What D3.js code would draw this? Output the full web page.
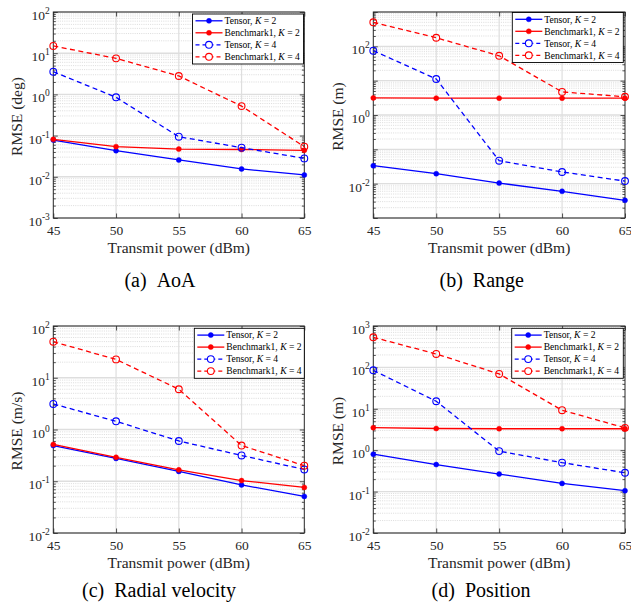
<!DOCTYPE html>
<html>
<head>
<meta charset="utf-8">
<script src="https://cdn.jsdelivr.net/npm/d3@7"></script>
<style>
  html, body { margin: 0; padding: 0; background: #fff; }
  svg, svg text { font-family: "Liberation Serif", "Times New Roman", Times, serif; }
</style>
</head>
<body>
<svg id="fig" width="631" height="610" font-family="Liberation Serif"></svg>
<script>
// Transmit power sweep (dBm)
const power = [45, 50, 55, 60, 65];

// Legend entries: method name and number of targets K
const seriesNames = ["Tensor", "Benchmark1", "Tensor", "Benchmark1"];
const seriesK = [2, 2, 4, 4];

// (a) AoA RMSE (deg)
const aoaTensorK2 = [0.078, 0.043, 0.0256, 0.0155, 0.0111];
const aoaBenchK2  = [0.081, 0.054, 0.047, 0.046, 0.044];
const aoaTensorK4 = [3.56, 0.85, 0.094, 0.051, 0.028];
const aoaBenchK4  = [15.0, 7.5, 2.8, 0.52, 0.054];

// (b) Range RMSE (m)
const rngTensorK2 = [0.0333, 0.0195, 0.0104, 0.0060, 0.00327];
const rngBenchK2  = [3.15, 3.1, 3.1, 3.1, 3.1];
const rngTensorK4 = [74.6, 11.2, 0.0466, 0.0219, 0.0119];
const rngBenchK4  = [501, 178, 53, 4.7, 3.4];

// (c) Radial velocity RMSE (m/s)
const velTensorK2 = [0.49, 0.276, 0.155, 0.085, 0.051];
const velBenchK2  = [0.515, 0.29, 0.166, 0.103, 0.076];
const velTensorK4 = [3.12, 1.44, 0.60, 0.315, 0.169];
const velBenchK4  = [49.7, 22.6, 6.0, 0.49, 0.20];

// (d) Position RMSE (m)
const posTensorK2 = [0.80, 0.45, 0.265, 0.158, 0.105];
const posBenchK2  = [3.5, 3.34, 3.3, 3.3, 3.3];
const posTensorK4 = [85, 15.2, 0.95, 0.50, 0.285];
const posBenchK4  = [533, 211, 69.5, 9.25, 3.47];

// y-axis decade ranges and labelled exponents
const aoaExpRange = [-3, 2], aoaLabelExps = [-3, -2, -1, 0, 1, 2];
const rngExpRange = [-3, 3], rngLabelExps = [-2, 0, 2];
const velExpRange = [-2, 2], velLabelExps = [-2, -1, 0, 1, 2];
const posExpRange = [-2, 3], posLabelExps = [-2, -1, 0, 1, 2, 3];

const xTicks = [45, 50, 55, 60, 65];

// Line style per series: colour, dashed, filled marker
const styles = [
  { color: "#0000ff", dashed: false, filled: true },
  { color: "#ff0000", dashed: false, filled: true },
  { color: "#0000ff", dashed: true,  filled: false },
  { color: "#ff0000", dashed: true,  filled: false }
];

const panels = [
  { series: [aoaTensorK2, aoaBenchK2, aoaTensorK4, aoaBenchK4], exps: aoaExpRange, labelExps: aoaLabelExps,
    yLabel: "RMSE (deg)", tag: "(a)", name: "AoA",
    box: { l: 53.3, r: 304.3, t: 12, b: 218 }, yLabelX: 21.7,
    legend: { x: 192.5, y: 14, w: 111, h: 50 }, cap: { x: 160, y: 287 } },
  { series: [rngTensorK2, rngBenchK2, rngTensorK4, rngBenchK4], exps: rngExpRange, labelExps: rngLabelExps,
    yLabel: "RMSE (m)", tag: "(b)", name: "Range",
    box: { l: 373.3, r: 625, t: 12, b: 218 }, yLabelX: 343,
    legend: { x: 512.3, y: 12.5, w: 111, h: 50 }, cap: { x: 481.7, y: 287 } },
  { series: [velTensorK2, velBenchK2, velTensorK4, velBenchK4], exps: velExpRange, labelExps: velLabelExps,
    yLabel: "RMSE (m/s)", tag: "(c)", name: "Radial velocity",
    box: { l: 53.3, r: 304.3, t: 326, b: 533 }, yLabelX: 21.7,
    legend: { x: 194.3, y: 328.3, w: 110, h: 50 }, cap: { x: 159, y: 597 } },
  { series: [posTensorK2, posBenchK2, posTensorK4, posBenchK4], exps: posExpRange, labelExps: posLabelExps,
    yLabel: "RMSE (m)", tag: "(d)", name: "Position",
    box: { l: 373.3, r: 625, t: 326, b: 533 }, yLabelX: 342.5,
    legend: { x: 511.7, y: 328.3, w: 111.6, h: 50 }, cap: { x: 481, y: 597 } }
];

const svg = d3.select("#fig");
const axisColor = "#262626";
const serif = "Liberation Serif";

panels.forEach(p => {
  const { l, r, t, b } = p.box;
  const x = d3.scaleLinear().domain([45, 65]).range([l, r]);
  const y = d3.scaleLog().domain([Math.pow(10, p.exps[0]), Math.pow(10, p.exps[1])]).range([b, t]);
  const g = svg.append("g").attr("font-family", serif);

  const decades = d3.range(p.exps[0], p.exps[1] + 1).map(e => Math.pow(10, e));
  const minors = [];
  for (let e = p.exps[0]; e < p.exps[1]; e++) {
    for (let k = 2; k <= 9; k++) minors.push(k * Math.pow(10, e));
  }

  // minor grid (dotted)
  g.append("g").selectAll("line").data(minors).join("line")
    .attr("x1", l).attr("x2", r)
    .attr("y1", d => y(d)).attr("y2", d => y(d))
    .attr("stroke", "#c4c4c4").attr("stroke-width", 0.6)
    .attr("stroke-dasharray", "1,1.2");

  // major grid (solid)
  g.append("g").selectAll("line").data(decades).join("line")
    .attr("x1", l).attr("x2", r)
    .attr("y1", d => y(d)).attr("y2", d => y(d))
    .attr("stroke", "#dedede").attr("stroke-width", 1.4);
  g.append("g").selectAll("line").data(xTicks.slice(1, -1)).join("line")
    .attr("x1", d => x(d)).attr("x2", d => x(d))
    .attr("y1", t).attr("y2", b)
    .attr("stroke", "#dedede").attr("stroke-width", 1.2);

  // axes with inward ticks
  const xb = g.append("g").attr("transform", `translate(0,${b})`)
    .call(d3.axisBottom(x).tickValues(xTicks).tickSizeInner(-4.5).tickSizeOuter(0));
  xb.selectAll("text").attr("y", 16.5).attr("dy", 0)
    .attr("font-size", 13.5).attr("fill", axisColor).attr("font-family", serif);
  const xt = g.append("g").attr("transform", `translate(0,${t})`)
    .call(d3.axisTop(x).tickValues(xTicks).tickSizeInner(-4.5).tickSizeOuter(0).tickFormat(""));

  const yl = g.append("g").attr("transform", `translate(${l},0)`)
    .call(d3.axisLeft(y).tickValues(decades).tickSizeInner(-4.5).tickSizeOuter(0).tickFormat(""));
  const yr = g.append("g").attr("transform", `translate(${r},0)`)
    .call(d3.axisRight(y).tickValues(decades).tickSizeInner(-4.5).tickSizeOuter(0).tickFormat(""));
  const ylm = g.append("g").attr("transform", `translate(${l},0)`)
    .call(d3.axisLeft(y).tickValues(minors).tickSizeInner(-2.5).tickSizeOuter(0).tickFormat(""));
  const yrm = g.append("g").attr("transform", `translate(${r},0)`)
    .call(d3.axisRight(y).tickValues(minors).tickSizeInner(-2.5).tickSizeOuter(0).tickFormat(""));
  [xb, xt, yl, yr, ylm, yrm].forEach(a => {
    a.attr("font-family", serif);
    a.select(".domain").remove();
    a.selectAll("line").attr("stroke", axisColor).attr("stroke-width", 0.8);
  });

  // box
  g.append("rect").attr("x", l).attr("y", t).attr("width", r - l).attr("height", b - t)
    .attr("fill", "none").attr("stroke", axisColor).attr("stroke-width", 1);

  // y tick labels as powers of ten
  const lab = g.append("g").selectAll("text").data(p.labelExps).join("text")
    .attr("x", l - 3.5).attr("y", d => y(Math.pow(10, d)) + 8)
    .attr("text-anchor", "end").attr("font-size", 13.5).attr("fill", axisColor)
    .attr("font-family", serif);
  lab.append("tspan").text("10");
  lab.append("tspan").attr("dy", -6).attr("font-size", 9.5).text(d => String(d));

  // axis titles
  g.append("text").attr("x", (l + r) / 2).attr("y", b + 35)
    .attr("text-anchor", "middle").attr("font-size", 15.5).attr("fill", axisColor)
    .attr("font-family", serif)
    .text("Transmit power (dBm)");
  g.append("text")
    .attr("transform", `translate(${p.yLabelX},${(t + b) / 2 + 1.5}) rotate(-90)`)
    .attr("text-anchor", "middle").attr("font-size", 15.5).attr("fill", axisColor)
    .attr("font-family", serif)
    .text(p.yLabel);

  // data series
  const line = d3.line().x((d, i) => x(power[i])).y(d => y(d));
  p.series.forEach((vals, si) => {
    const s = styles[si];
    g.append("path").datum(vals).attr("d", line)
      .attr("fill", "none").attr("stroke", s.color).attr("stroke-width", 1.3)
      .attr("stroke-dasharray", s.dashed ? "5,3.5" : null);
    g.append("g").selectAll("circle").data(vals).join("circle")
      .attr("cx", (d, i) => x(power[i])).attr("cy", d => y(d))
      .attr("r", s.filled ? 2.5 : 3.4)
      .attr("fill", s.filled ? s.color : "none")
      .attr("stroke", s.color).attr("stroke-width", s.filled ? 0.5 : 1.1);
  });

  // legend
  const L = p.legend;
  const lg = g.append("g");
  lg.append("rect").attr("x", L.x).attr("y", L.y).attr("width", L.w).attr("height", L.h)
    .attr("fill", "#fff").attr("stroke", "#000").attr("stroke-width", 0.9);
  seriesNames.forEach((nm, si) => {
    const s = styles[si];
    const ry = L.y + 6.8 + si * 12;
    const x0 = L.x + 3, x1 = L.x + 30;
    lg.append("line").attr("x1", x0).attr("x2", x1).attr("y1", ry).attr("y2", ry)
      .attr("stroke", s.color).attr("stroke-width", 1.3)
      .attr("stroke-dasharray", s.dashed ? "4,3" : null);
    lg.append("circle").attr("cx", (x0 + x1) / 2).attr("cy", ry)
      .attr("r", s.filled ? 2.5 : 3.4)
      .attr("fill", s.filled ? s.color : "#fff")
      .attr("stroke", s.color).attr("stroke-width", s.filled ? 0.5 : 1.1);
    const tx = lg.append("text").attr("x", L.x + 32).attr("y", ry + 3.3)
      .attr("font-size", 9.6).attr("fill", "#000").attr("font-family", serif);
    tx.append("tspan").text(nm + ", ");
    tx.append("tspan").attr("font-style", "italic").text("K");
    tx.append("tspan").text(" = " + seriesK[si]);
  });

  // caption
  const cap = g.append("text").attr("x", p.cap.x).attr("y", p.cap.y)
    .attr("text-anchor", "middle").attr("font-size", 20).attr("fill", "#000")
    .attr("font-family", serif);
  cap.append("tspan").text(p.tag);
  cap.append("tspan").attr("dx", 10).text(p.name);
});
</script>
</body>
</html>
